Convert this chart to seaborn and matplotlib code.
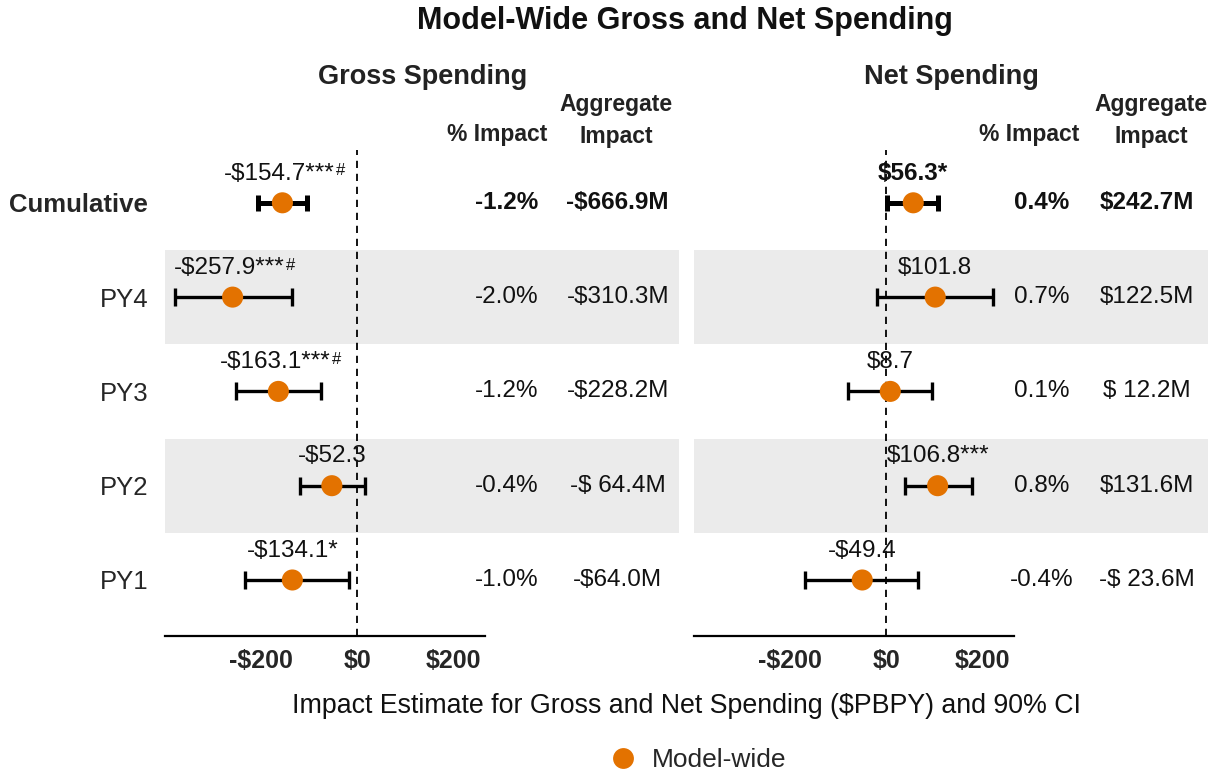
import numpy as np
import pandas as pd
import matplotlib
matplotlib.use("Agg")
import matplotlib.pyplot as plt
import seaborn as sns
from matplotlib import transforms
from matplotlib.lines import Line2D

# ---------------- data ----------------
rows = ["Cumulative", "PY4", "PY3", "PY2", "PY1"]

gross_est = [-154.7, -257.9, -163.1, -52.3, -134.1]
gross_lo = [-205, -377, -251, -119, -232]
gross_hi = [-104, -135, -75, 17, -17]
gross_stars = ["***", "***", "***", "", "*"]
gross_hash = ["#", "#", "#", "", ""]
gross_pct = ["-1.2%", "-2.0%", "-1.2%", "-0.4%", "-1.0%"]
gross_agg = ["-$666.9M", "-$310.3M", "-$228.2M", "-$ 64.4M", "-$64.0M"]

net_est = [56.3, 101.8, 8.7, 106.8, -49.4]
net_lo = [2, -19, -79, 40, -167]
net_hi = [108, 221, 95, 177, 67]
net_stars = ["*", "", "", "***", ""]
net_hash = ["", "", "", "", ""]
net_pct = ["0.4%", "0.7%", "0.1%", "0.8%", "-0.4%"]
net_agg = ["$242.7M", "$122.5M", "$ 12.2M", "$131.6M", "-$ 23.6M"]

xticks = [-200, 0, 200]
xtick_labels = ["-$200", "$0", "$200"]
series_name = "Model-wide"

# ---------------- style ----------------
sns.set_theme(style="white")
plt.rcParams['font.family'] = ['Liberation Sans', 'DejaVu Sans']

ORANGE = "#E37200"
BAND = "#EBEBEB"
W, H = 1212, 776

fig = plt.figure(figsize=(W / 100, H / 100), dpi=100)
ax_bottom_px, ax_top_px = 636, 150
axL = fig.add_axes([165 / W, 1 - ax_bottom_px / H, 514 / W, (ax_bottom_px - ax_top_px) / H])
axR = fig.add_axes([694 / W, 1 - ax_bottom_px / H, 514 / W, (ax_bottom_px - ax_top_px) / H])

XLIM = (-398, 667)
YLIM = (4.594, -0.56)


def draw_panel(ax, est, lo, hi, stars, hashes, pct, agg, header, bold_label0, show_rows,
               pct_x, agg_x, pct_hx, agg_hx):
    n = len(est)
    ax.set_xlim(*XLIM)
    ax.set_ylim(*YLIM)
    for i in (1, 3):
        ax.axhspan(i - 0.5, i + 0.5, color=BAND, lw=0, zorder=0)
    ax.axvline(0, color="black", ls=(0, (4, 3.2)), lw=1.3, zorder=1)

    for i in range(n):
        lw = 3.6 if i == 0 else 2.4
        cs = 5.5 if i == 0 else 6.5
        ax.errorbar(est[i], i, xerr=[[est[i] - lo[i]], [hi[i] - est[i]]],
                    fmt="none", ecolor="black", elinewidth=lw, capsize=cs,
                    capthick=lw, zorder=2)

    df = pd.DataFrame({"est": est, "row": list(range(n)), "series": series_name})
    sns.scatterplot(data=df, x="est", y="row", hue="series", palette=[ORANGE],
                    s=230, edgecolor="none", linewidth=0, ax=ax, legend=False, zorder=3)

    shift = transforms.offset_copy(ax.transData, fig=fig, x=-3, y=0, units="dots")
    for i in range(n):
        weight = "bold" if (i == 0 and bold_label0) else "normal"
        t = ax.text(est[i], i - 0.31, f"{'-' if est[i] < 0 else ''}${abs(est[i]):.1f}{stars[i]}",
                    ha="center", va="center", fontsize=17.5, fontweight=weight,
                    color="#111111", transform=shift if hashes[i] else ax.transData, zorder=4)
        if hashes[i]:
            ax.annotate(hashes[i], xy=(1, 0.97), xycoords=t, xytext=(0.5, 0),
                        textcoords="offset points", ha="left", va="top",
                        fontsize=12, color="#111111")

    for i in range(n):
        weight = "bold" if i == 0 else "normal"
        ax.text(pct_x, i, pct[i], ha="center", va="center", fontsize=17.5,
                fontweight=weight, color="#111111")
        ax.text(agg_x, i, agg[i], ha="center", va="center", fontsize=17.5,
                fontweight=weight, color="#111111")

    # axis styling
    for s in ["top", "right", "left"]:
        ax.spines[s].set_visible(False)
    ax.spines["bottom"].set_visible(True)
    ax.spines["bottom"].set_color("black")
    ax.spines["bottom"].set_linewidth(1.6)
    ax.spines["bottom"].set_bounds(XLIM[0], 265)
    ax.set_xticks(xticks)
    ax.set_xticklabels(xtick_labels, fontsize=18, fontweight="bold")
    ax.tick_params(axis="x", direction="out", length=5, width=1.6, color="black", pad=4)
    ax.set_xlabel("")
    ax.set_ylabel("")
    if show_rows:
        ax.set_yticks(list(range(n)))
        ax.set_yticklabels(rows, fontsize=18.5)
        ax.get_yticklabels()[0].set_fontweight("bold")
        ax.tick_params(axis="y", length=0, pad=12)
    else:
        ax.set_yticks([])

    # headers (data x, figure y)
    tr = transforms.blended_transform_factory(ax.transData, fig.transFigure)
    ax.text(135, 1 - 77 / H, header, transform=tr, ha="center", va="center",
            fontsize=19.5, fontweight="bold", color="#222222")
    ax.text(pct_hx, 1 - 134 / H, "% Impact", transform=tr,
            ha="center", va="center", fontsize=16.5, fontweight="bold", color="#222222")
    ax.text(agg_hx, 1 - 120 / H, "Aggregate\nImpact", transform=tr,
            ha="center", va="center", fontsize=16.5, fontweight="bold", color="#222222",
            linespacing=1.5)


draw_panel(axL, gross_est, gross_lo, gross_hi, gross_stars, gross_hash, gross_pct,
           gross_agg, "Gross Spending", False, True, 309, 540, 290, 537)
draw_panel(axR, net_est, net_lo, net_hi, net_stars, net_hash, net_pct,
           net_agg, "Net Spending", True, False, 323, 540, 296, 549)

fig.text(685 / W, 1 - 21 / H, "Model-Wide Gross and Net Spending", ha="center", va="center",
         fontsize=22, fontweight="bold", color="#111111")
fig.text(687 / W, 1 - 706 / H, "Impact Estimate for Gross and Net Spending ($PBPY) and 90% CI",
         ha="center", va="center", fontsize=19.3, color="#111111")

handle = Line2D([], [], marker="o", linestyle="none", markersize=15,
                markerfacecolor=ORANGE, markeredgecolor="none")
fig.legend([handle], [series_name], loc="center left", bbox_to_anchor=(586 / W, 1 - 760 / H),
           frameon=False, fontsize=19, handlelength=1.0, handletextpad=0.6)

fig.savefig("out.png", dpi=100, facecolor="white")
